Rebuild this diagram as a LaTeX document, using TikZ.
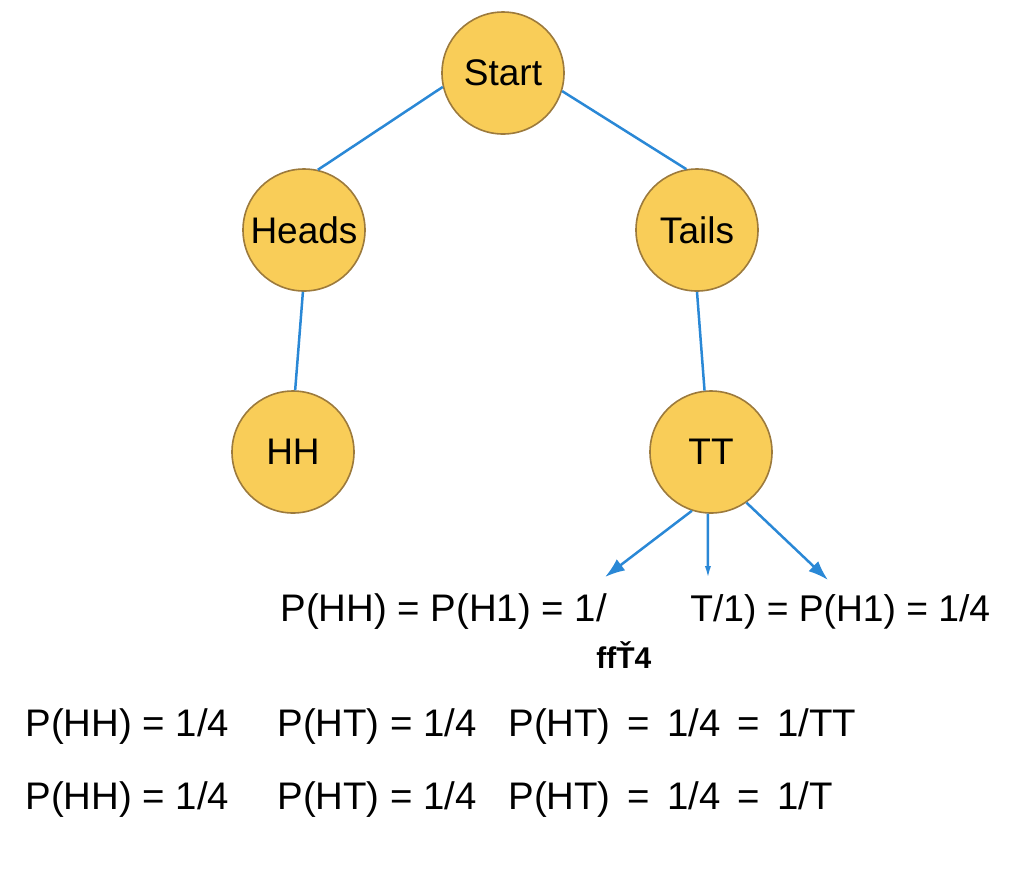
\documentclass[tikz,border=0pt]{standalone}
\usepackage{fontspec}
\setmainfont{Liberation Sans}
\usetikzlibrary{arrows.meta}
\definecolor{coinFill}{HTML}{F9CD58}
\definecolor{coinBorder}{HTML}{9C7A3C}
\definecolor{branchBlue}{HTML}{2A88D6}
\begin{document}
\begin{tikzpicture}[x=0.5pt, y=-0.5pt,
  coin/.style={circle, fill=coinFill, draw=coinBorder, line width=0.8pt,
    minimum size=61pt, inner sep=0pt, font=\fontsize{18.5}{20}\selectfont},
  branch/.style={draw=branchBlue, line width=1.25pt},
  outcome/.style={branch, -{Latex[length=10pt, width=7pt]}},
  prob/.style={anchor=west, inner sep=0pt, font=\fontsize{19.2}{22}\selectfont}]
% Canvas
\useasboundingbox (0,0) rectangle (1024,875);
% Tree nodes
\node[coin] (start) at (503,73) {Start};
\node[coin] (heads) at (304,230) {Heads};
\node[coin] (tails) at (697,230) {Tails};
\node[coin] (hh) at (293,452) {HH};
\node[coin] (tt) at (711,452) {TT};
% Branches
\draw[branch] (start.193) -- (heads.77);
\draw[branch] (start.343) -- (tails.100);
\draw[branch] (heads.269) -- (hh.88);
\draw[branch] (tails.270) -- (tt.96);
% Outcome arrows below TT
\coordinate (ttleft) at (605,577);
\coordinate (ttmid) at (708,580);
\coordinate (ttright) at (828,580);
\draw[outcome] (tt.252) -- (ttleft);
\draw[branch, -{Latex[length=7pt, width=3pt]}] (tt.267) -- (ttmid);
\draw[outcome] (tt.305) -- (ttright);
% Probability labels
\node[prob] (pleft) at (280,612) {P(HH) = P(H1) = 1/};
\node[prob, font=\fontsize{18.6}{22}\selectfont] (pright) at (690,612) {T/1) = P(H1) = 1/4};
\node[prob, font=\fontsize{15}{18}\bfseries\selectfont] (pglitch) at (596,655) {ffŤ4};
% Rows of results
\node[prob] (rowa1) at (25,727) {P(HH) = 1/4};
\node[prob] (rowa2) at (277,727) {P(HT) = 1/4};
\node[prob] (rowa3) at (508,727) {P(HT)\,\ =\,\ 1/4\,\ =\,\ 1/TT};
\node[prob] (rowb1) at (25,800) {P(HH) = 1/4};
\node[prob] (rowb2) at (277,800) {P(HT) = 1/4};
\node[prob] (rowb3) at (508,800) {P(HT)\,\ =\,\ 1/4\,\ =\,\ 1/T};
\end{tikzpicture}
\end{document}
